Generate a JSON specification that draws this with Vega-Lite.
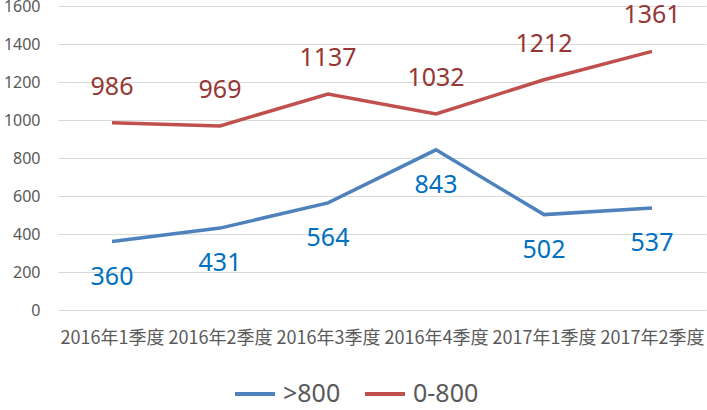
{
  "$schema": "https://vega.github.io/schema/vega-lite/v6.json",
  "autosize": "none",
  "width": 648,
  "height": 304,
  "padding": {"left": 58, "top": 6, "right": 1, "bottom": 100},
  "background": "white",
  "config": {
    "view": {"stroke": null},
    "font": "Noto Sans"
  },
  "data": {
    "values": [
      {"q": "2016年1季度", "s": ">800", "v": 360},
      {"q": "2016年2季度", "s": ">800", "v": 431},
      {"q": "2016年3季度", "s": ">800", "v": 564},
      {"q": "2016年4季度", "s": ">800", "v": 843},
      {"q": "2017年1季度", "s": ">800", "v": 502},
      {"q": "2017年2季度", "s": ">800", "v": 537},
      {"q": "2016年1季度", "s": "0-800", "v": 986},
      {"q": "2016年2季度", "s": "0-800", "v": 969},
      {"q": "2016年3季度", "s": "0-800", "v": 1137},
      {"q": "2016年4季度", "s": "0-800", "v": 1032},
      {"q": "2017年1季度", "s": "0-800", "v": 1212},
      {"q": "2017年2季度", "s": "0-800", "v": 1361}
    ]
  },
  "encoding": {
    "x": {
      "field": "q", "type": "nominal", "sort": null,
      "scale": {"type": "point", "padding": 0.5},
      "axis": {
        "title": null, "labelAngle": 0, "domain": false, "ticks": false,
        "labelFont": "Noto Sans CJK SC", "labelFontSize": 18, "labelColor": "#595959",
        "labelPadding": 19, "labelOverlap": false, "labelLimit": 200
      }
    },
    "y": {
      "field": "v", "type": "quantitative",
      "scale": {"domain": [0, 1600], "nice": false},
      "axis": {
        "title": null, "values": [0, 200, 400, 600, 800, 1000, 1200, 1400, 1600],
        "format": "d",
        "domain": false, "ticks": false, "gridColor": "#D9D9D9", "gridWidth": 1,
        "labelFontSize": 16, "labelColor": "#595959", "labelPadding": 18
      }
    }
  },
  "layer": [
    {
      "mark": {"type": "line", "strokeWidth": 3.5},
      "encoding": {
        "color": {
          "field": "s", "type": "nominal",
          "scale": {"domain": [">800", "0-800"], "range": ["#4F81BD", "#C0504D"]},
          "legend": {
            "title": null, "orient": "none", "direction": "horizontal",
            "legendX": 175, "legendY": 366,
            "symbolType": "stroke", "symbolStrokeWidth": 4, "symbolSize": 1600,
            "labelFontSize": 25, "labelColor": "#595959", "columnPadding": 16, "labelOffset": 6
          }
        }
      }
    },
    {
      "transform": [{"filter": "datum.s === '0-800'"}],
      "mark": {"type": "text", "dy": -36, "fontSize": 25, "color": "#953735"},
      "encoding": {"text": {"field": "v", "type": "quantitative"}}
    },
    {
      "transform": [{"filter": "datum.s === '>800'"}],
      "mark": {"type": "text", "dy": 35, "fontSize": 25, "color": "#0070C0"},
      "encoding": {"text": {"field": "v", "type": "quantitative"}}
    }
  ]
}
